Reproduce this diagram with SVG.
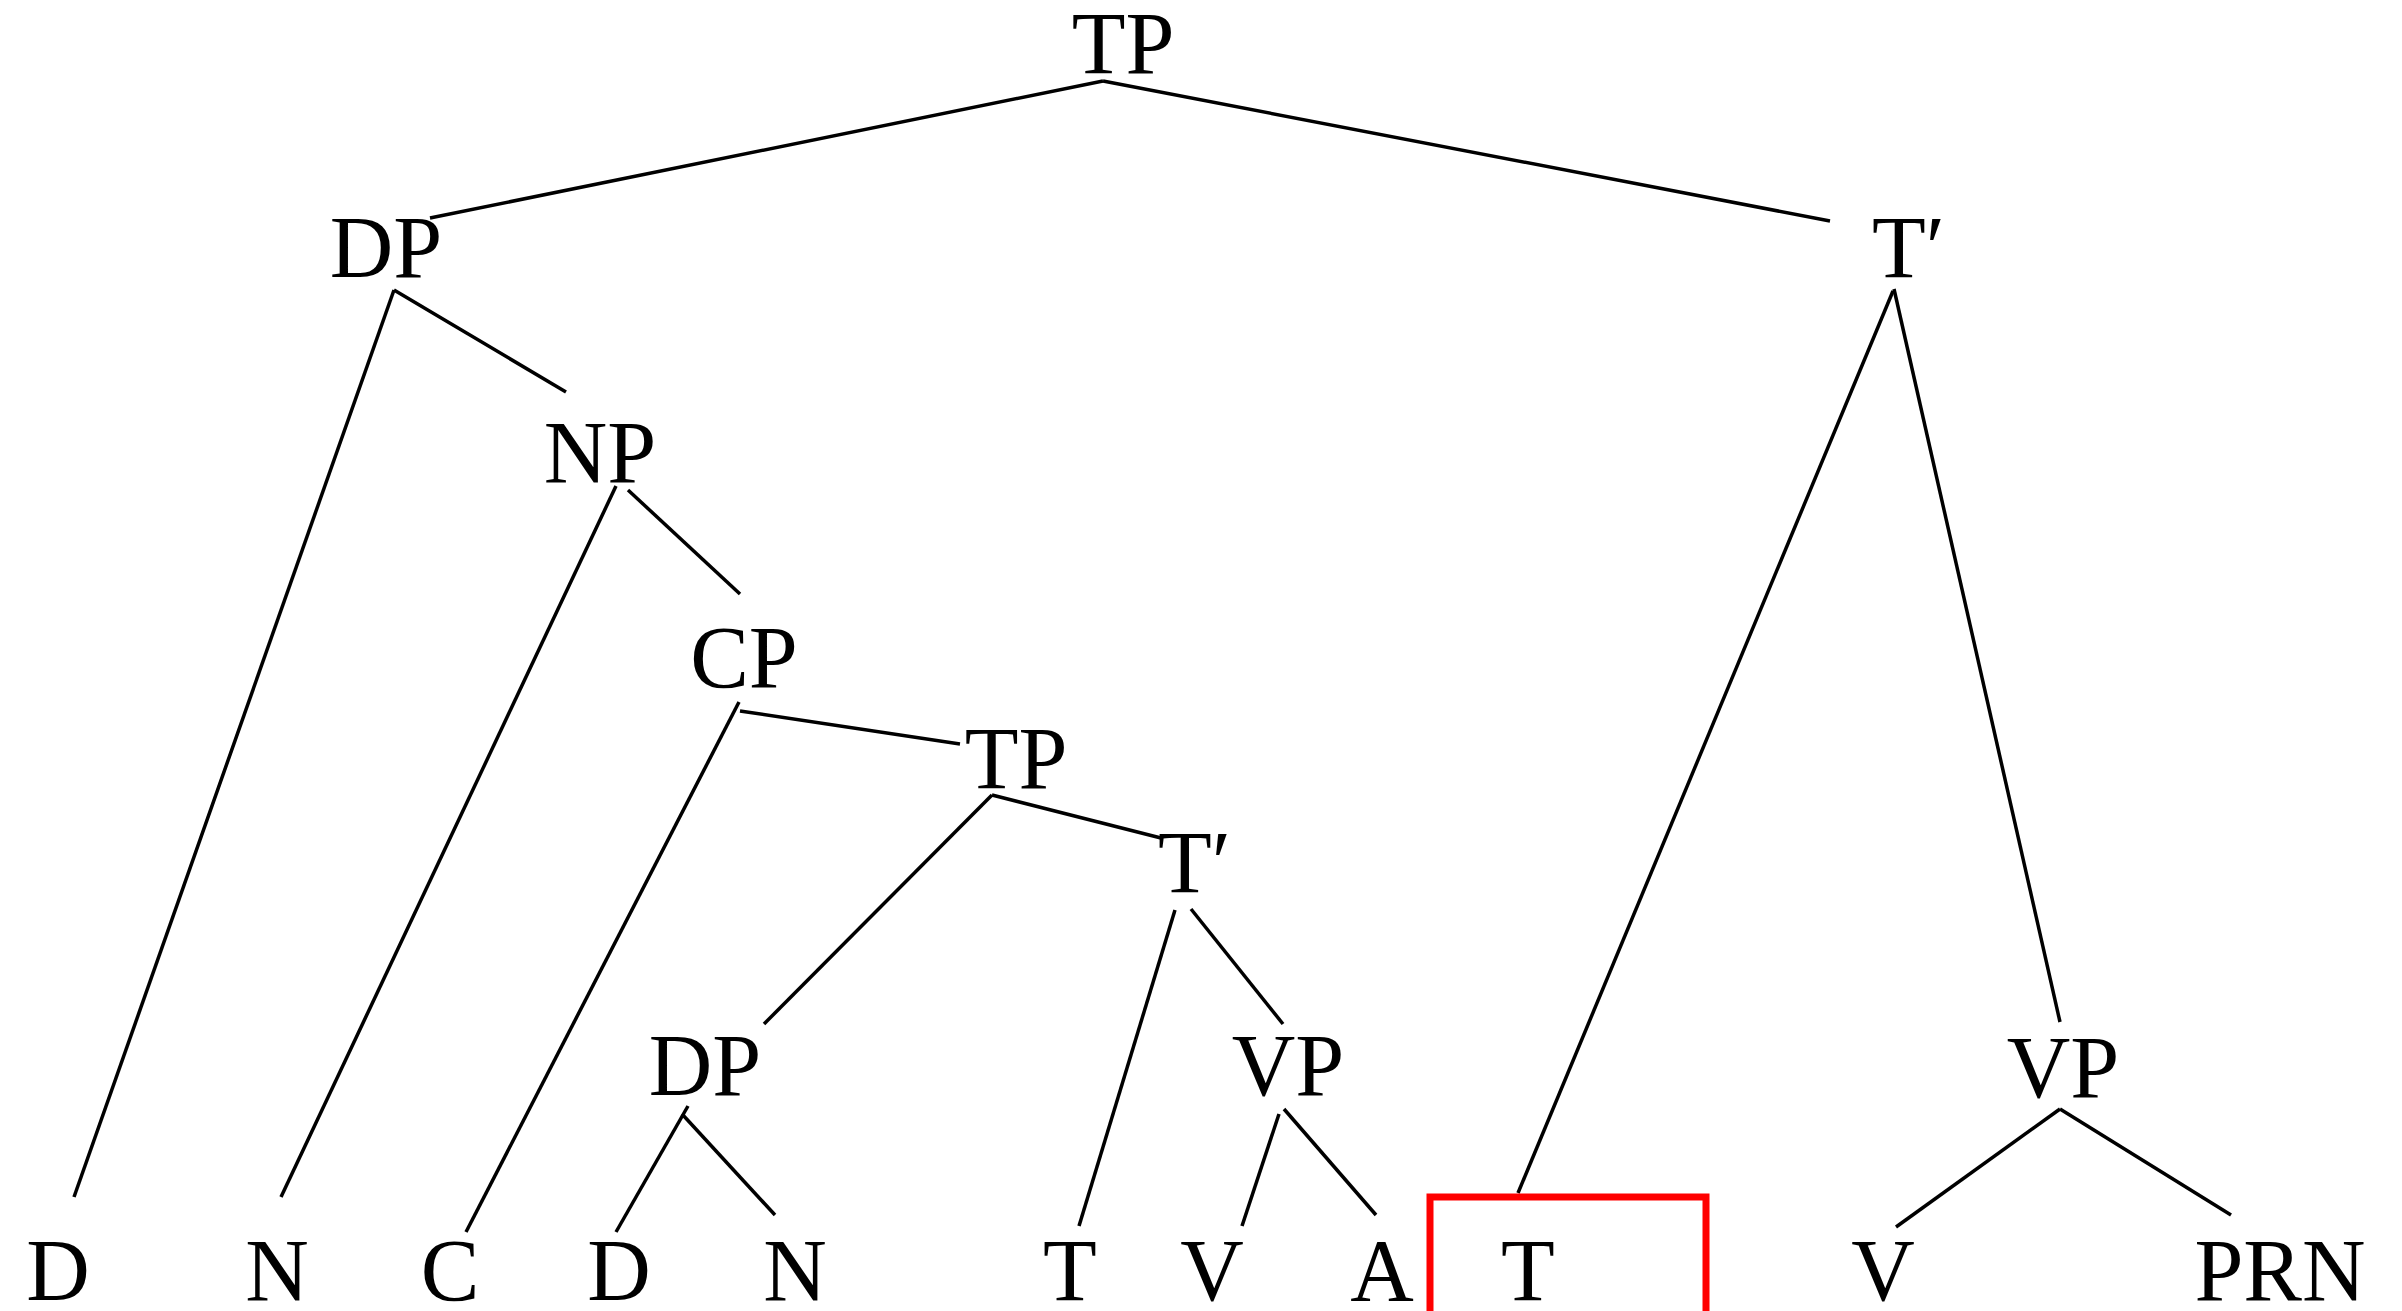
<svg xmlns="http://www.w3.org/2000/svg" width="2402" height="1311" viewBox="0 0 2402 1311">
<style>
.lbl{font-family:"Liberation Serif","DejaVu Serif",serif;font-size:88px;fill:#000;text-anchor:middle}
.lbs{font-family:"Liberation Serif","DejaVu Serif",serif;font-size:88px;fill:#000;text-anchor:start}
.edge{stroke:#000;stroke-width:3.5;fill:none;stroke-linecap:butt}
</style>
<rect width="2402" height="1311" fill="#fff"/>
<g id="connectors">
<line class="edge" x1="1103" y1="81" x2="430" y2="218"/>
<line class="edge" x1="1103" y1="81" x2="1830" y2="221"/>
<line class="edge" x1="394" y1="290" x2="74" y2="1197"/>
<line class="edge" x1="394" y1="290" x2="566" y2="392"/>
<line class="edge" x1="616" y1="486" x2="281" y2="1197"/>
<line class="edge" x1="628" y1="490" x2="740" y2="594"/>
<line class="edge" x1="739" y1="702" x2="466" y2="1232"/>
<line class="edge" x1="740" y1="711" x2="960" y2="744"/>
<line class="edge" x1="992" y1="795" x2="764" y2="1024"/>
<line class="edge" x1="992" y1="795" x2="1161" y2="838"/>
<line class="edge" x1="1175" y1="910" x2="1079" y2="1226"/>
<line class="edge" x1="1191" y1="909" x2="1283" y2="1024"/>
<line class="edge" x1="688" y1="1106" x2="616" y2="1232"/>
<line class="edge" x1="682" y1="1114" x2="775" y2="1215"/>
<line class="edge" x1="1279" y1="1114" x2="1242" y2="1226"/>
<line class="edge" x1="1284" y1="1109" x2="1376" y2="1215"/>
<line class="edge" x1="1893" y1="291" x2="1518" y2="1193"/>
<line class="edge" x1="1894" y1="289" x2="2060" y2="1022"/>
<line class="edge" x1="2060" y1="1109" x2="1896" y2="1227"/>
<line class="edge" x1="2060" y1="1109" x2="2231" y2="1215"/>
</g>
<g id="n-tp-root"><text class="lbl" x="1123" y="73">TP</text></g>
<g id="n-dp-1"><text class="lbl" x="386" y="277">DP</text></g>
<g id="n-tbar-1"><text class="lbs" x="1872" y="277">T′</text></g>
<g id="n-np"><text class="lbl" x="600" y="482">NP</text></g>
<g id="n-cp"><text class="lbl" x="744" y="687">CP</text></g>
<g id="n-tp-2"><text class="lbl" x="1016" y="788">TP</text></g>
<g id="n-tbar-2"><text class="lbs" x="1158" y="892">T′</text></g>
<g id="n-dp-2"><text class="lbl" x="705" y="1095">DP</text></g>
<g id="n-vp-1"><text class="lbl" x="1288" y="1095">VP</text></g>
<g id="n-vp-2"><text class="lbl" x="2063" y="1097">VP</text></g>
<g id="n-d-1"><text class="lbl" x="58" y="1300">D</text></g>
<g id="n-n-1"><text class="lbl" x="277" y="1300">N</text></g>
<g id="n-c"><text class="lbl" x="450" y="1300">C</text></g>
<g id="n-d-2"><text class="lbl" x="619" y="1300">D</text></g>
<g id="n-n-2"><text class="lbl" x="795" y="1300">N</text></g>
<g id="n-t-1"><text class="lbl" x="1070" y="1300">T</text></g>
<g id="n-v-1"><text class="lbl" x="1212" y="1300">V</text></g>
<g id="n-a"><text class="lbl" x="1382" y="1300">A</text></g>
<g id="n-t-2"><rect x="1430" y="1197" width="276" height="200" fill="none" stroke="#ff0000" stroke-width="7"/><text class="lbl" x="1528" y="1300">T</text></g>
<g id="n-v-2"><text class="lbl" x="1883" y="1300">V</text></g>
<g id="n-prn"><text class="lbl" x="2280" y="1300">PRN</text></g>
</svg>
